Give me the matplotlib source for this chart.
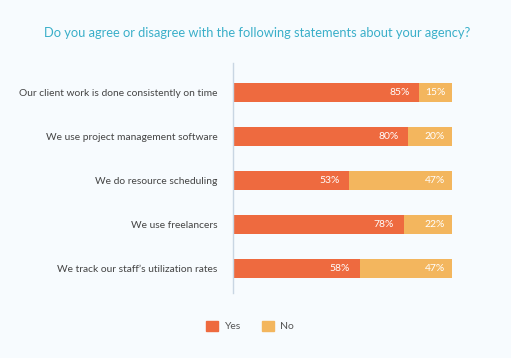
import matplotlib.pyplot as plt
from matplotlib.patches import Patch

statements = [
    "Our client work is done consistently on time",
    "We use project management software",
    "We do resource scheduling",
    "We use freelancers",
    "We track our staff\u2019s utilization rates",
]
yes_vals = [85, 80, 53, 78, 58]
no_vals = [15, 20, 47, 22, 42]          # drawn widths (bars fill to 100)
no_labels = ["15%", "20%", "47%", "22%", "47%"]  # printed on the chart
yes_labels = ["85%", "80%", "53%", "78%", "58%"]

c_yes = "#EE6A3F"
c_no = "#F3B65E"
bg = "#F7FBFE"

plt.rcParams["font.family"] = ["Lato", "DejaVu Sans"]

fig = plt.figure(figsize=(5.11, 3.58), dpi=100, facecolor=bg)
ax = fig.add_axes([233 / 511, 1 - 293 / 358, 219 / 511, 230 / 358])
ax.set_facecolor(bg)

y = list(range(len(statements)))
ax.barh(y, yes_vals, height=0.43, color=c_yes, label="Yes")
ax.barh(y, no_vals, left=yes_vals, height=0.43, color=c_no, label="No")

for i in y:
    ax.annotate(yes_labels[i], (yes_vals[i], i), xytext=(-7, 0), textcoords="offset points",
                ha="right", va="center", color="white", fontsize=7.5)
    ax.annotate(no_labels[i], (yes_vals[i] + no_vals[i], i), xytext=(-5, 0), textcoords="offset points",
                ha="right", va="center", color="white", fontsize=7.5)

ax.set_xlim(0, 100)
ax.set_ylim(4.56, -0.67)
ax.set_yticks(y)
ax.set_yticklabels(statements, fontsize=7.4, color="#444444")
ax.tick_params(axis="y", length=0, pad=11)
ax.set_xticks([])
for s in ["top", "right", "bottom"]:
    ax.spines[s].set_visible(False)
ax.spines["left"].set_color("#C9D6E3")
ax.spines["left"].set_linewidth(1)

fig.text(0.503, 1 - 33 / 358, "Do you agree or disagree with the following statements about your agency?",
         ha="center", va="center", color="#3AAFC9", fontsize=9.3)

handles = [Patch(color=c_yes, label="Yes"), Patch(color=c_no, label="No")]
fig.legend(handles=handles, loc="center", bbox_to_anchor=(250 / 511, 1 - 326 / 358), ncol=2,
           frameon=False, fontsize=7.5, handlelength=1.2, handleheight=1.2, columnspacing=2.0,
           handletextpad=0.6, labelcolor="#555555")

fig.savefig("out.png", dpi=100, facecolor=bg)
